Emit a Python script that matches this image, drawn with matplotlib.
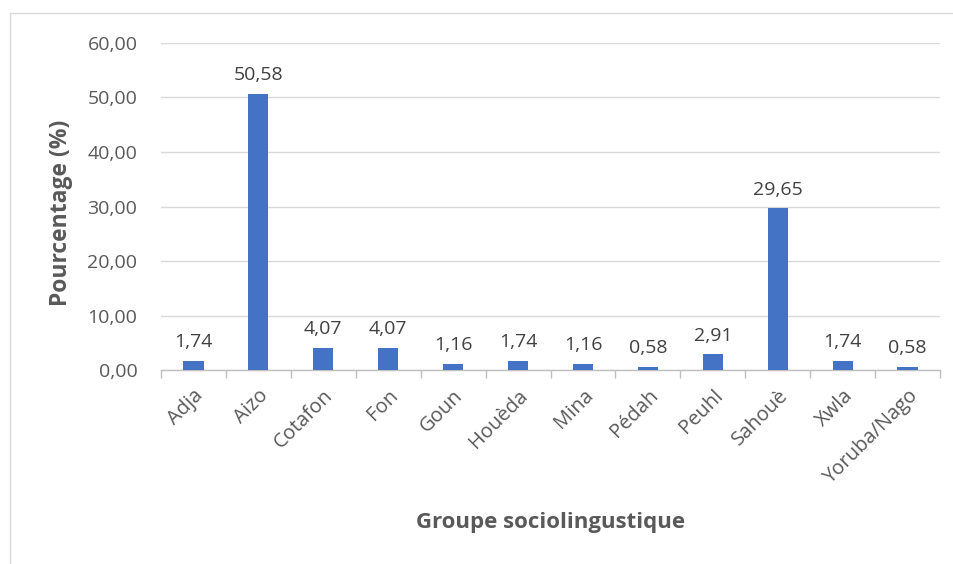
import matplotlib.pyplot as plt
import numpy as np
from matplotlib.lines import Line2D

groupes = ["Adja", "Aizo", "Cotafon", "Fon", "Goun", "Houèda", "Mina",
           "Pédah", "Peuhl", "Sahouè", "Xwla", "Yoruba/Nago"]
pourcentages = [1.74, 50.58, 4.07, 4.07, 1.16, 1.74, 1.16, 0.58, 2.91, 29.65, 1.74, 0.58]
yticks = [0, 10, 20, 30, 40, 50, 60]

gris = "#595959"
plt.rcParams['font.family'] = ['Open Sans', 'DejaVu Sans']

fig = plt.figure(figsize=(9.54, 5.64), dpi=100)
ax = fig.add_axes([0.1688, 0.3434, 0.8165, 0.5809])

x = np.arange(len(groupes))
ax.bar(x, pourcentages, width=0.31, color="#4472C4", zorder=3)

for xi, v in zip(x, pourcentages):
    ax.annotate(f"{v:.2f}".replace(".", ","), (xi, v), xytext=(0, 7),
                textcoords="offset points", ha="center", va="bottom",
                fontsize=14, color="#404040")

ax.set_xlim(-0.5, len(groupes) - 0.5)
ax.set_ylim(0, 60)
ax.set_yticks(yticks)
ax.set_yticklabels([f"{t:.2f}".replace(".", ",") for t in yticks], fontsize=14, color=gris)
ax.yaxis.grid(True, color="#D9D9D9", linewidth=1, zorder=0)
ax.tick_params(axis="y", length=0, pad=17)

# ticks between categories
ax.set_xticks(x)
ax.set_xticklabels(groupes, rotation=45, ha="right", rotation_mode="anchor",
                   fontsize=14.5, color=gris)
ax.tick_params(axis="x", length=0, pad=11)
ax.set_xticks(np.arange(-0.5, len(groupes)), minor=True)
ax.tick_params(axis="x", which="minor", length=6, color="#BFBFBF", width=1)

for s in ["top", "right", "left"]:
    ax.spines[s].set_visible(False)
ax.spines["bottom"].set_color("#BFBFBF")
ax.spines["bottom"].set_linewidth(1)

ax.set_ylabel("Pourcentage (%)", fontsize=16.5, fontweight="bold", color=gris)
ax.yaxis.set_label_coords(-0.113, 0.48)
fig.text(0.577, 0.074, "Groupe sociolingustique", fontsize=16, fontweight="bold",
         color=gris, ha="center", va="center")

# chart border
fig.add_artist(Line2D([10 / 954, 10 / 954], [0, 1 - 13 / 564], color="#D9D9D9", lw=1))
fig.add_artist(Line2D([10 / 954, 1], [1 - 13 / 564, 1 - 13 / 564], color="#D9D9D9", lw=1))

fig.savefig("out.png", dpi=100, facecolor="white")
